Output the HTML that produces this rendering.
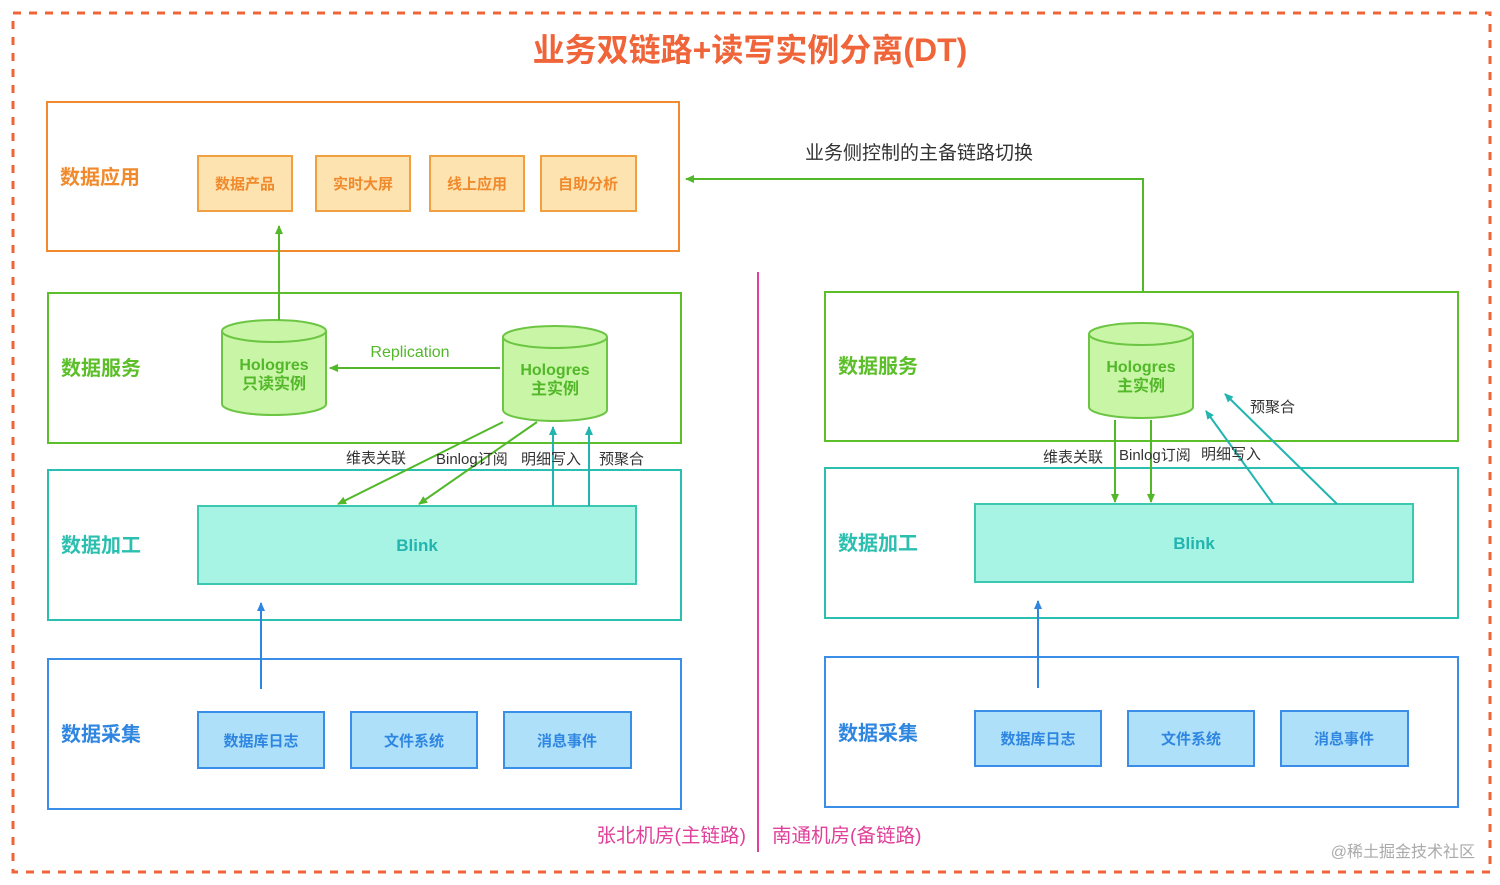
<!DOCTYPE html>
<html><head><meta charset="utf-8"><style>
html,body{margin:0;padding:0;background:#fff;}
svg{display:block;}
text{font-family:"Liberation Sans","Noto Sans CJK SC",sans-serif;}
.b{font-weight:bold;}
</style></head><body>
<svg width="1500" height="885" viewBox="0 0 1500 885" xmlns="http://www.w3.org/2000/svg">
<defs>
<marker id="ag" markerWidth="10" markerHeight="10" refX="8" refY="5" orient="auto" markerUnits="userSpaceOnUse"><path d="M0,1 L9,5 L0,9 z" fill="#52b82a"/></marker>
<marker id="at" markerWidth="10" markerHeight="10" refX="8" refY="5" orient="auto" markerUnits="userSpaceOnUse"><path d="M0,1 L9,5 L0,9 z" fill="#22b5b0"/></marker>
<marker id="ab" markerWidth="10" markerHeight="10" refX="8" refY="5" orient="auto" markerUnits="userSpaceOnUse"><path d="M0,1 L9,5 L0,9 z" fill="#2f86e0"/></marker>
</defs>
<rect x="13" y="13" width="1477" height="859" fill="none" stroke="#f0643a" stroke-width="3" stroke-dasharray="8,8"/>
<text x="750" y="61" text-anchor="middle" class="b" font-size="32" fill="#f0643a">业务双链路+读写实例分离(DT)</text>

<rect x="47" y="102" width="632" height="149" fill="none" stroke="#f08a2c" stroke-width="2"/>
<text x="60" y="184" class="b" font-size="20" fill="#f08a2c">数据应用</text>
<g fill="#fde3b0" stroke="#f0a040" stroke-width="2">
<rect x="198" y="156" width="94" height="55"/><rect x="316" y="156" width="94" height="55"/>
<rect x="430" y="156" width="94" height="55"/><rect x="541" y="156" width="95" height="55"/></g>
<g class="b" font-size="15" fill="#f08a2c" text-anchor="middle">
<text x="245" y="189">数据产品</text><text x="363" y="189">实时大屏</text><text x="477" y="189">线上应用</text><text x="588" y="189">自助分析</text></g>

<rect x="48" y="293" width="633" height="150" fill="none" stroke="#5cbf2a" stroke-width="2"/>
<text x="61" y="375" class="b" font-size="20" fill="#5cbf2a">数据服务</text>
<g fill="#c9f5a6" stroke="#6cc644" stroke-width="2">
<path d="M222,331 L222,404 A52,11 0 0 0 326,404 L326,331"/><ellipse cx="274" cy="331" rx="52" ry="11"/>
<path d="M503,337 L503,410 A52,11 0 0 0 607,410 L607,337"/><ellipse cx="555" cy="337" rx="52" ry="11"/></g>
<g class="b" font-size="16" fill="#52b82a" text-anchor="middle">
<text x="274" y="370">Hologres</text><text x="274" y="389">只读实例</text>
<text x="555" y="375">Hologres</text><text x="555" y="394">主实例</text></g>
<line x1="500" y1="368" x2="330" y2="368" stroke="#52b82a" stroke-width="2" marker-end="url(#ag)"/>
<text x="410" y="357" text-anchor="middle" font-size="16" fill="#52b82a">Replication</text>
<line x1="279" y1="320" x2="279" y2="226" stroke="#52b82a" stroke-width="2" marker-end="url(#ag)"/>

<rect x="48" y="470" width="633" height="150" fill="none" stroke="#2bbfb0" stroke-width="2"/>
<text x="61" y="552" class="b" font-size="20" fill="#2bbfb0">数据加工</text>
<rect x="198" y="506" width="438" height="78" fill="#a8f4e4" stroke="#3cc8b0" stroke-width="2"/>
<text x="417" y="551" text-anchor="middle" class="b" font-size="17" fill="#22b5b0">Blink</text>
<line x1="503" y1="422" x2="338" y2="504" stroke="#52b82a" stroke-width="2" marker-end="url(#ag)"/>
<line x1="537" y1="422" x2="419" y2="504" stroke="#52b82a" stroke-width="2" marker-end="url(#ag)"/>
<line x1="553" y1="506" x2="553" y2="427" stroke="#22b5b0" stroke-width="2" marker-end="url(#at)"/>
<line x1="589" y1="506" x2="589" y2="427" stroke="#22b5b0" stroke-width="2" marker-end="url(#at)"/>
<g font-size="15" fill="#333"><text x="346" y="463">维表关联</text><text x="436" y="464">Binlog订阅</text><text x="521" y="464">明细写入</text><text x="599" y="464">预聚合</text></g>

<rect x="48" y="659" width="633" height="150" fill="none" stroke="#3a8ee8" stroke-width="2"/>
<text x="61" y="741" class="b" font-size="20" fill="#2f86e0">数据采集</text>
<g fill="#aee0fa" stroke="#3a8ee8" stroke-width="2">
<rect x="198" y="712" width="126" height="56"/><rect x="351" y="712" width="126" height="56"/><rect x="504" y="712" width="127" height="56"/></g>
<g class="b" font-size="15" fill="#2f86e0" text-anchor="middle">
<text x="261" y="746">数据库日志</text><text x="414" y="746">文件系统</text><text x="567" y="746">消息事件</text></g>
<line x1="261" y1="689" x2="261" y2="603" stroke="#2f86e0" stroke-width="2" marker-end="url(#ab)"/>

<line x1="758" y1="272" x2="758" y2="852" stroke="#e0409a" stroke-width="2"/>
<text x="746" y="842" text-anchor="end" font-size="19.5" fill="#e0409a">张北机房(主链路)</text>
<text x="772" y="842" font-size="19.5" fill="#e0409a">南通机房(备链路)</text>
<text x="1475" y="857" text-anchor="end" font-size="16" fill="#aaa">@稀土掘金技术社区</text>

<polyline points="1143,292 1143,179 686,179" fill="none" stroke="#52b82a" stroke-width="2" marker-end="url(#ag)"/>
<text x="805" y="159" font-size="19" fill="#333">业务侧控制的主备链路切换</text>

<rect x="825" y="292" width="633" height="149" fill="none" stroke="#5cbf2a" stroke-width="2"/>
<text x="838" y="373" class="b" font-size="20" fill="#5cbf2a">数据服务</text>
<g fill="#c9f5a6" stroke="#6cc644" stroke-width="2">
<path d="M1089,334 L1089,407 A52,11 0 0 0 1193,407 L1193,334"/><ellipse cx="1141" cy="334" rx="52" ry="11"/></g>
<g class="b" font-size="16" fill="#52b82a" text-anchor="middle"><text x="1141" y="372">Hologres</text><text x="1141" y="391">主实例</text></g>
<text x="1250" y="412" font-size="15" fill="#333">预聚合</text>

<rect x="825" y="468" width="633" height="150" fill="none" stroke="#2bbfb0" stroke-width="2"/>
<text x="838" y="550" class="b" font-size="20" fill="#2bbfb0">数据加工</text>
<rect x="975" y="504" width="438" height="78" fill="#a8f4e4" stroke="#3cc8b0" stroke-width="2"/>
<text x="1194" y="549" text-anchor="middle" class="b" font-size="17" fill="#22b5b0">Blink</text>
<line x1="1115" y1="420" x2="1115" y2="502" stroke="#52b82a" stroke-width="2" marker-end="url(#ag)"/>
<line x1="1151" y1="420" x2="1151" y2="502" stroke="#52b82a" stroke-width="2" marker-end="url(#ag)"/>
<line x1="1273" y1="504" x2="1206" y2="411" stroke="#22b5b0" stroke-width="2" marker-end="url(#at)"/>
<line x1="1337" y1="504" x2="1225" y2="394" stroke="#22b5b0" stroke-width="2" marker-end="url(#at)"/>
<g font-size="15" fill="#333"><text x="1043" y="462">维表关联</text><text x="1119" y="460">Binlog订阅</text><text x="1201" y="459">明细写入</text></g>

<rect x="825" y="657" width="633" height="150" fill="none" stroke="#3a8ee8" stroke-width="2"/>
<text x="838" y="740" class="b" font-size="20" fill="#2f86e0">数据采集</text>
<g fill="#aee0fa" stroke="#3a8ee8" stroke-width="2">
<rect x="975" y="711" width="126" height="55"/><rect x="1128" y="711" width="126" height="55"/><rect x="1281" y="711" width="127" height="55"/></g>
<g class="b" font-size="15" fill="#2f86e0" text-anchor="middle">
<text x="1038" y="744">数据库日志</text><text x="1191" y="744">文件系统</text><text x="1344" y="744">消息事件</text></g>
<line x1="1038" y1="688" x2="1038" y2="601" stroke="#2f86e0" stroke-width="2" marker-end="url(#ab)"/>
</svg>
</body></html>
